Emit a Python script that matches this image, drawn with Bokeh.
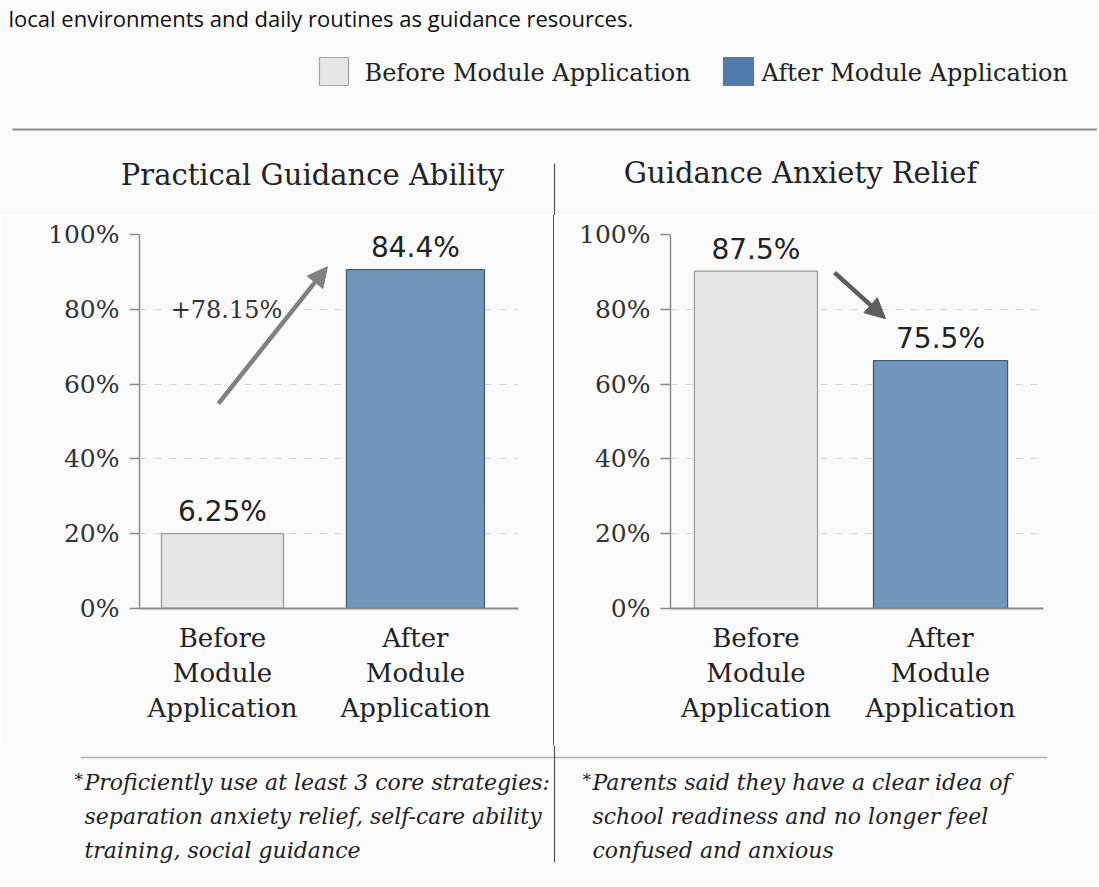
from bokeh.plotting import figure
from bokeh.models import Range1d, FixedTicker, Arrow, NormalHead, ColumnDataSource, Div
from bokeh.layouts import column, row
from bokeh.embed import file_html
from bokeh.resources import INLINE
from bokeh.core.properties import value

# ---------------- data ----------------
INTRO_TEXT = "local environments and daily routines as guidance resources."
SERIES = ["Before Module Application", "After Module Application"]
CATEGORY_LABELS = ["Before\nModule\nApplication", "After\nModule\nApplication"]
PANEL_TITLES = ["Practical Guidance Ability", "Guidance Anxiety Relief"]

ABILITY_BAR_HEIGHTS = [20.0, 90.6]          # bar heights as drawn (% axis)
ABILITY_VALUE_LABELS = ["6.25%", "84.4%"]
ABILITY_CHANGE_LABEL = "+78.15%"

RELIEF_BAR_HEIGHTS = [90.2, 66.3]           # bar heights as drawn (% axis)
RELIEF_VALUE_LABELS = ["87.5%", "75.5%"]

Y_TICKS = [0, 20, 40, 60, 80, 100]
Y_TICK_LABELS = ["0%", "20%", "40%", "60%", "80%", "100%"]

NOTES_LEFT = ["Proficiently use at least 3 core strategies:",
              "separation anxiety relief, self-care ability",
              "training, social guidance"]
NOTES_RIGHT = ["Parents said they have a clear  idea of",
               "school readiness and no longer feel",
               "confused and anxious"]

# ---------------- style ----------------
BG = "#fafafa"
TXT = "#222222"
BEFORE_FILL, BEFORE_LINE = "#e7e7ea", "#9b9b9b"
AFTER_FILL, AFTER_LINE = "#7395bb", "#3e5d7f"
LEGEND_AFTER = "#4f7cab"
SERIF = "DejaVu Serif"

W = 1097


def canvas(width, height, x0, x1, ytop, ybot):
    p = figure(width=width, height=height, x_range=Range1d(x0, x1),
               y_range=Range1d(ybot, ytop), output_backend="svg",
               toolbar_location=None, x_axis_location=None,
               y_axis_location=None, min_border=0)
    p.grid.visible = False
    p.outline_line_color = None
    p.background_fill_color = BG
    p.border_fill_color = BG
    return p


# ---------------- header ----------------
hdr = canvas(W, 215, 0, W, 0, 215)
hdr.text(x=[8], y=[17], text=[INTRO_TEXT], text_font=value("Open Sans"),
         text_font_size="22px", text_color="#111111",
         text_baseline="middle", text_align="left")
hdr.quad(left=[319, 723], right=[348, 753], top=[57, 57], bottom=[85, 85],
         fill_color=[BEFORE_FILL, LEGEND_AFTER],
         line_color=["#a5a5a5", LEGEND_AFTER], line_width=1.2)
hdr.text(x=[364, 761], y=[72, 72], text=SERIES, text_font=value(SERIF),
         text_font_size="24px", text_color=TXT, text_baseline="middle",
         text_align="left")
hdr.segment(x0=[12], y0=[129], x1=[W], y1=[129], line_color="#8f8f8f",
            line_width=2)
hdr.text(x=[312, 800], y=[174, 172], text=PANEL_TITLES, text_font=value(SERIF),
         text_font_size="29px", text_color=TXT, text_baseline="middle",
         text_align="center")
hdr.segment(x0=[554], y0=[163], x1=[554], y1=[215], line_color="#555555",
            line_width=1.2)


# ---------------- panels ----------------
def panel(width, b_left, b_right, xr, heights, widths, labels, arrow, arrow_color):
    p = figure(width=width, height=530, x_range=Range1d(*xr),
               y_range=Range1d(0, 100), output_backend="svg",
               toolbar_location=None, min_border_left=b_left,
               min_border_right=b_right, min_border_top=19,
               min_border_bottom=137)
    p.outline_line_color = None
    p.background_fill_color = BG
    p.border_fill_color = BG

    src = ColumnDataSource(dict(x=[0, 1], top=heights, w=widths,
                                fill=[BEFORE_FILL, AFTER_FILL],
                                line=[BEFORE_LINE, AFTER_LINE],
                                label=labels))
    p.vbar(x="x", top="top", bottom=0, width="w", fill_color="fill",
           line_color="line", line_width=1.3, source=src)
    p.text(x="x", y="top", text="label", source=src, y_offset=-22,
           text_font=value("DejaVu Sans"), text_font_size="28px",
           text_color=TXT, text_align="center", text_baseline="middle")

    (xs, ys), (xe, ye) = arrow
    p.add_layout(Arrow(end=NormalHead(size=20, fill_color=arrow_color,
                                      line_color=arrow_color),
                       x_start=xs, y_start=ys, x_end=xe, y_end=ye,
                       line_color=arrow_color, line_width=4.5))

    p.xgrid.visible = False
    p.ygrid.ticker = FixedTicker(ticks=Y_TICKS)
    p.ygrid.grid_line_color = "#d2d2d2"
    p.ygrid.grid_line_dash = "7 8"
    p.ygrid.grid_line_width = 1

    ya = p.yaxis[0]
    ya.ticker = FixedTicker(ticks=Y_TICKS)
    ya.major_label_overrides = {t: l for t, l in zip(Y_TICKS, Y_TICK_LABELS)}
    ya.major_label_text_font = SERIF
    ya.major_label_text_font_size = "25px"
    ya.major_label_text_color = "#333333"
    ya.major_label_standoff = 10
    ya.major_tick_out = 10
    ya.major_tick_in = 0
    ya.minor_tick_out = 0
    ya.minor_tick_in = 0
    ya.axis_line_color = "#8c8c8c"
    ya.axis_line_width = 1.5
    ya.major_tick_line_color = "#8c8c8c"
    ya.major_tick_line_width = 1.5

    xa = p.xaxis[0]
    xa.ticker = FixedTicker(ticks=[0, 1])
    xa.major_label_overrides = {0: CATEGORY_LABELS[0], 1: CATEGORY_LABELS[1]}
    xa.major_label_text_font = SERIF
    xa.major_label_text_font_size = "26px"
    xa.major_label_text_color = TXT
    xa.major_label_text_line_height = 1.18
    xa.major_label_standoff = 14
    xa.major_tick_out = 0
    xa.major_tick_in = 0
    xa.minor_tick_out = 0
    xa.minor_tick_in = 0
    xa.axis_line_color = "#8c8c8c"
    xa.axis_line_width = 2
    return p


left = panel(553, 139, 35, (-0.430, 1.534), ABILITY_BAR_HEIGHTS, [0.632, 0.715],
             ABILITY_VALUE_LABELS, ((-0.021, 54.8), (0.544, 91.4)), "#808080")
left.text(x=[0.021], y=[79.7], text=[ABILITY_CHANGE_LABEL], text_font=value(SERIF),
          text_font_size="24px", text_color="#333333", text_align="center",
          text_baseline="middle")

right = panel(542, 115, 54, (-0.463, 1.558), RELIEF_BAR_HEIGHTS, [0.667, 0.726],
              RELIEF_VALUE_LABELS, ((0.426, 89.8), (0.702, 77.5)), "#5e5e5e")

divider = Div(text="", width=2, height=530,
              styles={"box-sizing": "border-box", "background-color": BG,
                      "border-left": "1px solid #555555", "margin": "0",
                      "padding": "0"})

# ---------------- footer ----------------
ftr = canvas(W, 140, 0, W, 745, 885)
ftr.segment(x0=[80], y0=[757], x1=[1047], y1=[757], line_color="#b4b4b4",
            line_width=1.5)
ftr.segment(x0=[554], y0=[745], x1=[554], y1=[862], line_color="#555555",
            line_width=1.2)
ftr.text(x=[74, 582], y=[779, 779], text=["*", "*"], text_font=value(SERIF),
         text_font_size="17px", text_color=TXT, text_baseline="middle")
note_y = [782, 816, 850]
ftr.text(x=[84] * 3 + [592] * 3, y=note_y + note_y, text=NOTES_LEFT + NOTES_RIGHT,
         text_font=value(SERIF), text_font_style="italic", text_font_size="22px",
         text_color=TXT, text_baseline="middle", text_align="left")

layout = column(hdr, row(left, divider, right), ftr)
open("out.html", "w").write(file_html(layout, INLINE))
